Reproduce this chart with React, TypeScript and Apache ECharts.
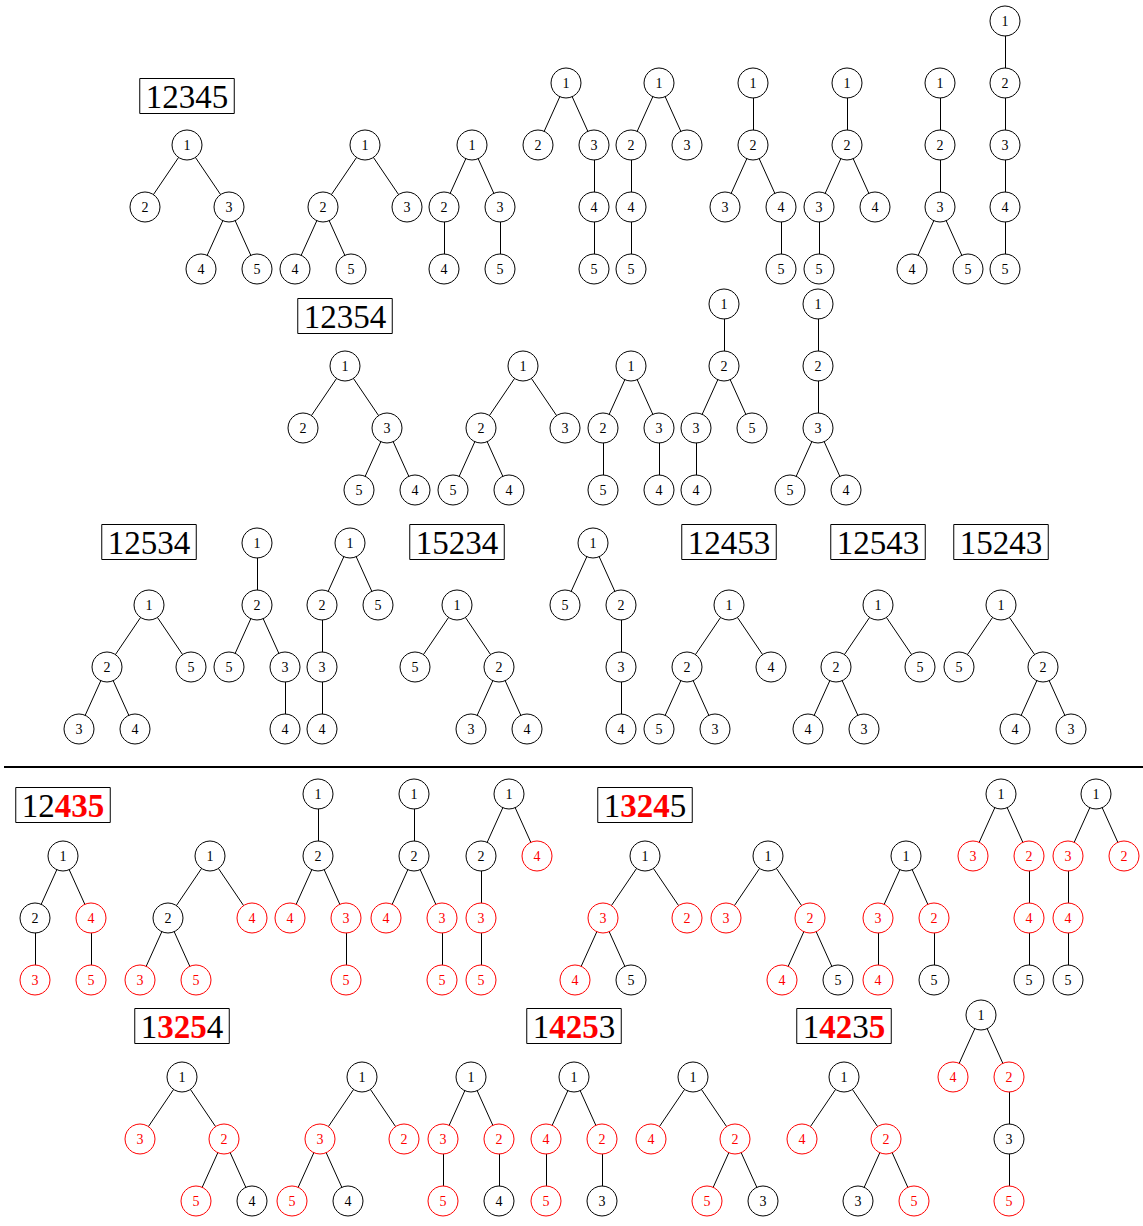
import React, { useEffect, useRef } from "react";
import * as echarts from "echarts";

const W = 1143;
const H = 1226;

// Trees in bracket notation, one list per row
const row1Trees = ["1(2,3(4,5))", "1(2(4,5),3)", "1(2(4),3(5))", "1(2,3(4(5)))", "1(2(4(5)),3)", "1(2(3,4(5)))", "1(2(3(5),4))", "1(2(3(4,5)))", "1(2(3(4(5))))"];
const row2Trees = ["1(2,3(5,4))", "1(2(5,4),3)", "1(2(5),3(4))", "1(2(3(4),5))", "1(2(3(5,4)))"];
const row3Trees = ["1(2(3,4),5)", "1(2(5,3(4)))", "1(2(3(4)),5)", "1(5,2(3,4))", "1(5,2(3(4)))", "1(2(5,3),4)", "1(2(4,3),5)", "1(5,2(4,3))"];
const row4Trees = ["1(2(3),4(5))", "1(2(3,5),4)", "1(2(4,3(5)))", "1(2(4,3(5)))", "1(2(3(5)),4)", "1(3(4,5),2)", "1(3,2(4,5))", "1(3(4),2(5))", "1(3,2(4(5)))", "1(3(4(5)),2)"];
const row5Trees = ["1(3,2(5,4))", "1(3(5,4),2)", "1(3(5),2(4))", "1(4(5),2(3))", "1(4,2(5,3))", "1(4,2(3,5))", "1(4,2(3(5)))"];

// Root positions (layout)
const row1Roots = [187, 365, 472, 566, 659, 753, 847, 940, 1005];
const row2Roots = [345, 523, 631, 724, 818];
const row3Roots = [149, 257, 350, 457, 593, 729, 878, 1001];
const row4Roots = [63, 210, 318, 414, 509, 645, 768, 906, 1001, 1096];
const row5Roots = [182, 362, 471, 574, 693, 844, 981];

const rowBottoms = [269, 490, 729, 980, 1201];
const rowLabelYs = [96, 316, 542, 805, 1026];

// Group labels: row, first tree index, text, bold mask (bold digits are red)
const labelRows = [0, 1, 2, 2, 2, 2, 2, 3, 3, 4, 4, 4];
const labelTrees = [0, 0, 0, 3, 5, 6, 7, 0, 5, 0, 3, 5];
const labelTexts = ["12345", "12354", "12534", "15234", "12453", "12543", "15243", "12435", "13245", "13254", "14253", "14235"];
const labelBold = ["00000", "00000", "00000", "00000", "00000", "00000", "00000", "00111", "01110", "01110", "01110", "01101"];

const rows = [row1Trees, row2Trees, row3Trees, row4Trees, row5Trees];
const roots = [row1Roots, row2Roots, row3Roots, row4Roots, row5Roots];

const RED = "#ff0000";
const STEP_Y = 62;
const HALF_GAP = 28;

type TNode = { lab: string; ch: TNode[] };

function parse(s: string): TNode {
  let i = 0;
  function node(): TNode {
    const lab = s[i++];
    const ch: TNode[] = [];
    if (s[i] === "(") {
      i++;
      ch.push(node());
      while (s[i] === ",") {
        i++;
        ch.push(node());
      }
      i++; // ')'
    }
    return { lab, ch };
  }
  return node();
}

type Item = { lab: string; x: number; d: number; p: number };
type Built = { items: Item[]; minX: number; maxX: number; depth: number };

function build(n: TNode): Built {
  if (n.ch.length === 0) return { items: [{ lab: n.lab, x: 0, d: 0, p: -1 }], minX: 0, maxX: 0, depth: 0 };
  const kids = n.ch.map(build);
  let shifts = [0];
  if (kids.length === 2) {
    const sep = 2 * HALF_GAP + kids[0].maxX - kids[1].minX;
    shifts = [-sep / 2, sep / 2];
  }
  const items: Item[] = [{ lab: n.lab, x: 0, d: 0, p: -1 }];
  let minX = 0, maxX = 0, depth = 0;
  kids.forEach((k, ki) => {
    const off = items.length;
    k.items.forEach((it) => {
      items.push({ lab: it.lab, x: it.x + shifts[ki], d: it.d + 1, p: it.p === -1 ? 0 : it.p + off });
    });
    minX = Math.min(minX, k.minX + shifts[ki]);
    maxX = Math.max(maxX, k.maxX + shifts[ki]);
    depth = Math.max(depth, k.depth + 1);
  });
  return { items, minX, maxX, depth };
}

function redSetFor(row: number, tree: number): string {
  let best = -1;
  for (let i = 0; i < labelRows.length; i++) {
    if (labelRows[i] === row && labelTrees[i] <= tree) {
      if (best < 0 || labelTrees[i] > labelTrees[best]) best = i;
    }
  }
  if (best < 0) return "";
  let s = "";
  for (let k = 0; k < labelTexts[best].length; k++) if (labelBold[best][k] === "1") s += labelTexts[best][k];
  return s;
}

function makeOption() {
  const nodes: any[] = [];
  const links: any[] = [];
  rows.forEach((trees, r) => {
    trees.forEach((str, t) => {
      const b = build(parse(str));
      const red = redSetFor(r, t);
      const base = nodes.length;
      b.items.forEach((it, k) => {
        const isRed = red.indexOf(it.lab) >= 0;
        nodes.push({
          name: `r${r}t${t}n${k}`,
          value: [roots[r][t] + it.x, rowBottoms[r] - (b.depth - it.d) * STEP_Y],
          itemStyle: { color: "#fff", borderColor: isRed ? RED : "#000", borderWidth: 1 },
          label: { formatter: it.lab, color: isRed ? RED : "#000" },
        });
        if (it.p >= 0) links.push({ source: base + it.p, target: base + k });
      });
    });
  });

  const graphics: any[] = labelTexts.map((txt, i) => {
    let rich = "";
    for (let k = 0; k < txt.length; k++) rich += labelBold[i][k] === "1" ? `{b|${txt[k]}}` : `{n|${txt[k]}}`;
    return {
      type: "text",
      x: roots[labelRows[i]][labelTrees[i]],
      y: rowLabelYs[labelRows[i]],
      style: {
        text: rich,
        align: "center",
        verticalAlign: "middle",
        fontFamily: "Liberation Serif",
        fontSize: 33,
        fill: "#000",
        borderColor: "#000",
        borderWidth: 1,
        padding: [2, 6, 0, 6],
        rich: {
          n: { fontFamily: "Liberation Serif", fontSize: 33, fill: "#000", lineHeight: 33 },
          b: { fontFamily: "Liberation Serif", fontSize: 33, fontWeight: "bold", fill: RED, lineHeight: 33 },
        },
      },
    };
  });
  graphics.push({
    type: "line",
    shape: { x1: 4, y1: 767, x2: 1143, y2: 767 },
    style: { stroke: "#000", lineWidth: 2 },
  });

  return {
    animation: false,
    backgroundColor: "#fff",
    grid: { left: 0, right: 0, top: 0, bottom: 0 },
    xAxis: { type: "value", min: 0, max: W, show: false },
    yAxis: { type: "value", min: 0, max: H, inverse: true, show: false },
    series: [
      {
        type: "graph",
        coordinateSystem: "cartesian2d",
        symbol: "circle",
        symbolSize: 30,
        data: nodes,
        links,
        lineStyle: { color: "#000", width: 1, opacity: 1, curveness: 0 },
        itemStyle: { color: "#fff", borderColor: "#000", borderWidth: 1 },
        label: { show: true, position: "inside", fontSize: 14, fontFamily: "Liberation Serif", color: "#000", textBorderWidth: 0 },
        emphasis: { disabled: true },
        z: 2,
      },
    ],
    graphic: graphics,
  };
}

export default function App() {
  const ref = useRef<HTMLDivElement>(null);
  useEffect(() => {
    if (!ref.current) return;
    const chart = echarts.init(ref.current, undefined, { renderer: "svg" });
    chart.setOption(makeOption() as any);
    return () => chart.dispose();
  }, []);
  return <div ref={ref} style={{ position: "absolute", left: 0, top: 0, width: W, height: H }} />;
}
